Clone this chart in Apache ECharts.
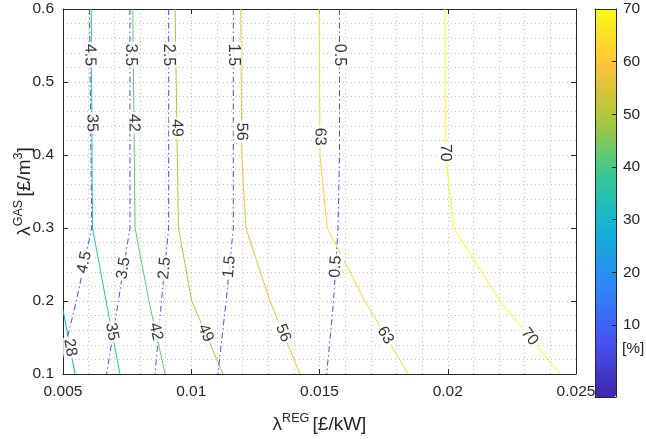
<!DOCTYPE html>
<html>
<head>
<meta charset="utf-8">
<script src="https://cdn.jsdelivr.net/npm/echarts@6/dist/echarts.min.js"></script>
<style>
    html, body { margin: 0; padding: 0; background: #ffffff; }
    #main { width: 646px; height: 439px; }
</style>
</head>
<body>
<div id="main"></div>
<script>
    // axes
    const xRange = [0.005, 0.025];
    const yRange = [0.1, 0.6];
    const cbarRange = [-3.7, 70];
    const cbarTicks = [10, 20, 30, 40, 50, 60, 70];

    // solid contours [%], points [lambdaREG, lambdaGAS] read top -> bottom
    const level28 = [[0.00500, 0.188], [0.00547, 0.1]];
    const level35 = [[0.00610, 0.6], [0.00615, 0.3], [0.00668, 0.2], [0.00722, 0.1]];
    const level42 = [[0.00772, 0.6], [0.00781, 0.3], [0.00835, 0.2], [0.00898, 0.1]];
    const level49 = [[0.00937, 0.6], [0.00950, 0.3], [0.01002, 0.2], [0.01124, 0.1]];
    const level56 = [[0.01193, 0.6], [0.01197, 0.4], [0.01213, 0.3], [0.01307, 0.2], [0.01424, 0.1]];
    const level63 = [[0.01499, 0.6], [0.01502, 0.4], [0.01530, 0.3], [0.01677, 0.2], [0.01846, 0.1]];
    const level70 = [[0.01989, 0.6], [0.01991, 0.4], [0.02024, 0.3], [0.02204, 0.2], [0.02438, 0.1]];

    // dash-dot contours
    const level4_5 = [[0.00603, 0.6], [0.00612, 0.3], [0.00552, 0.2], [0.00500, 0.125]];
    const level3_5 = [[0.00761, 0.6], [0.00761, 0.3], [0.00716, 0.2], [0.00670, 0.1]];
    const level2_5 = [[0.00912, 0.6], [0.00912, 0.3], [0.00884, 0.2], [0.00859, 0.1]];
    const level1_5 = [[0.01164, 0.6], [0.01164, 0.3], [0.01136, 0.2], [0.01104, 0.1]];
    const level0_5 = [[0.01578, 0.6], [0.01578, 0.4], [0.01572, 0.3], [0.01555, 0.2], [0.01528, 0.1]];

    // where the contour labels sit (lambdaGAS value on the line)
    const labelsAt28 = [0.136];
    const labelsAt35 = [0.444, 0.158];
    const labelsAt42 = [0.444, 0.158];
    const labelsAt49 = [0.437, 0.156];
    const labelsAt56 = [0.432, 0.156];
    const labelsAt63 = [0.425, 0.153];
    const labelsAt70 = [0.403, 0.151];
    const labelsAt4_5 = [0.537, 0.253];
    const labelsAt3_5 = [0.537, 0.245];
    const labelsAt2_5 = [0.537, 0.245];
    const labelsAt1_5 = [0.537, 0.247];
    const labelsAt0_5 = [0.537, 0.247];

    const contours = [
        {level: 28, pts: level28, at: labelsAt28, dash: false},
        {level: 35, pts: level35, at: labelsAt35, dash: false},
        {level: 42, pts: level42, at: labelsAt42, dash: false},
        {level: 49, pts: level49, at: labelsAt49, dash: false},
        {level: 56, pts: level56, at: labelsAt56, dash: false},
        {level: 63, pts: level63, at: labelsAt63, dash: false},
        {level: 70, pts: level70, at: labelsAt70, dash: false},
        {level: 4.5, pts: level4_5, at: labelsAt4_5, dash: true},
        {level: 3.5, pts: level3_5, at: labelsAt3_5, dash: true},
        {level: 2.5, pts: level2_5, at: labelsAt2_5, dash: true},
        {level: 1.5, pts: level1_5, at: labelsAt1_5, dash: true},
        {level: 0.5, pts: level0_5, at: labelsAt0_5, dash: true}
    ];

    // parula, 8 samples
    const PARULA = ['#3E26A8', '#4852F4', '#2D87F7', '#12B1D6', '#37C897', '#ABC739', '#FEC338', '#F9FB15'];
    const DASH_COLOR = '#5549DE';

    function hexRgb(h) {
        return [parseInt(h.substr(1, 2), 16), parseInt(h.substr(3, 2), 16), parseInt(h.substr(5, 2), 16)];
    }

    function parula(v) {
        let t = (v - cbarRange[0]) / (cbarRange[1] - cbarRange[0]);
        t = Math.max(0, Math.min(1, t)) * (PARULA.length - 1);
        const i = Math.min(Math.floor(t), PARULA.length - 2);
        const f = t - i;
        const a = hexRgb(PARULA[i]), b = hexRgb(PARULA[i + 1]);
        const c = a.map((x, k) => Math.round(x + (b[k] - x) * f));
        return 'rgb(' + c.join(',') + ')';
    }

    // x on the polyline for a given y, plus the segment it falls in
    function onLine(pts, y) {
        for (let i = 0; i < pts.length - 1; i++) {
            const y0 = pts[i][1], y1 = pts[i + 1][1];
            if (y <= y0 && y >= y1) {
                const f = (y0 - y) / (y0 - y1);
                return {x: pts[i][0] + (pts[i + 1][0] - pts[i][0]) * f, p0: pts[i], p1: pts[i + 1]};
            }
        }
        return {x: pts[0][0], p0: pts[0], p1: pts[1]};
    }

    const FONT = '"Liberation Sans", Arial, Helvetica, sans-serif';
    const INK = '#262626';
    const gridLine = {show: true, lineStyle: {color: '#c4c4c4', type: [1, 3], width: 1}};

    const series = contours.map(c => ({
        type: 'line',
        xAxisIndex: 0,
        yAxisIndex: 0,
        data: c.pts,
        symbol: 'none',
        silent: true,
        z: 3,
        lineStyle: {
            color: c.dash ? DASH_COLOR : parula(c.level),
            width: 1,
            type: c.dash ? [6, 3, 1.5, 3] : 'solid'
        }
    }));

    const labelItems = [];
    contours.forEach(c => {
        c.at.forEach(y => {
            const r = onLine(c.pts, y);
            labelItems.push({value: [r.x, y], name: String(c.level), p0: r.p0, p1: r.p1});
        });
    });

    series.push({
        id: 'labels',
        type: 'scatter',
        xAxisIndex: 0,
        yAxisIndex: 0,
        symbolSize: 0,
        silent: true,
        z: 5,
        data: labelItems.map(it => ({value: it.value, name: it.name})),
        label: {
            show: true,
            position: 'inside',
            formatter: '{b}',
            fontFamily: FONT,
            fontSize: 16,
            color: '#000',
            backgroundColor: '#ffffff',
            padding: [0, 2]
        }
    });

    // empty series the colour bar is bound to
    series.push({type: 'scatter', xAxisIndex: 2, yAxisIndex: 2, data: [], silent: true});

    const titleRich = {
        l: {fontFamily: FONT, fontSize: 19, color: INK, lineHeight: 26},
        s: {fontFamily: FONT, fontSize: 12.5, color: INK, lineHeight: 13, verticalAlign: 'top'}
    };

    const option = {
        animation: false,
        backgroundColor: '#ffffff',
        textStyle: {fontFamily: FONT},
        grid: [
            {left: 63, top: 9, width: 513, height: 365, containLabel: false, outerBoundsMode: 'none'},
            {left: 595, top: 9, width: 21, height: 388, containLabel: false, outerBoundsMode: 'none'}
        ],
        visualMap: {
            type: 'continuous',
            min: cbarRange[0],
            max: cbarRange[1],
            seriesIndex: series.length - 1,
            left: 595,
            top: 9,
            padding: 0,
            itemWidth: 21,
            itemHeight: 388,
            calculable: false,
            hoverLink: false,
            text: null,
            inRange: {color: PARULA}
        },
        xAxis: [
            {
                gridIndex: 0, type: 'value', min: xRange[0], max: xRange[1], interval: 0.005,
                axisLine: {onZero: false, lineStyle: {color: INK, width: 1}},
                axisTick: {inside: true, length: 5, lineStyle: {color: INK}},
                axisLabel: {
                    fontFamily: FONT, fontSize: 15.5, color: INK, margin: 10,
                    hideOverlap: false,
                    formatter: v => String(+v.toFixed(4))
                },
                splitLine: gridLine,
                minorTick: {show: false, splitNumber: 5},
                minorSplitLine: gridLine,
                name: '{l|λ}{s|REG} {l|[£/kW]}',
                nameLocation: 'middle',
                nameGap: 38,
                nameMoveOverlap: false,
                nameTextStyle: {rich: titleRich}
            },
            {
                gridIndex: 0, type: 'value', position: 'top', min: xRange[0], max: xRange[1], interval: 0.005,
                axisLine: {onZero: false, lineStyle: {color: INK, width: 1}},
                axisTick: {inside: true, length: 5, lineStyle: {color: INK}},
                axisLabel: {show: false},
                splitLine: {show: false}
            },
            {
                gridIndex: 1, type: 'value', min: 0, max: 1, z: 10,
                axisLine: {onZero: false, lineStyle: {color: INK, width: 1}},
                axisTick: {show: false}, axisLabel: {show: false}, splitLine: {show: false}
            },
            {
                gridIndex: 1, type: 'value', position: 'top', min: 0, max: 1, z: 10,
                axisLine: {onZero: false, lineStyle: {color: INK, width: 1}},
                axisTick: {show: false}, axisLabel: {show: false}, splitLine: {show: false}
            }
        ],
        yAxis: [
            {
                gridIndex: 0, type: 'value', min: yRange[0], max: yRange[1], interval: 0.1,
                axisLine: {onZero: false, lineStyle: {color: INK, width: 1}},
                axisTick: {inside: true, length: 5, lineStyle: {color: INK}},
                axisLabel: {
                    fontFamily: FONT, fontSize: 15.5, color: INK, margin: 9,
                    formatter: v => String(+v.toFixed(2))
                },
                splitLine: gridLine,
                minorTick: {show: false, splitNumber: 5},
                minorSplitLine: gridLine,
                name: '{l|λ}{s|GAS} {l|[£/m}{s|3}{l|]}',
                nameLocation: 'middle',
                nameRotate: 90,
                nameGap: 25,
                nameMoveOverlap: false,
                nameTextStyle: {rich: titleRich}
            },
            {
                gridIndex: 0, type: 'value', position: 'right', min: yRange[0], max: yRange[1], interval: 0.1,
                axisLine: {onZero: false, lineStyle: {color: INK, width: 1}},
                axisTick: {inside: true, length: 5, lineStyle: {color: INK}},
                axisLabel: {show: false},
                splitLine: {show: false}
            },
            {
                gridIndex: 1, type: 'value', position: 'right', min: cbarRange[0], max: cbarRange[1], z: 10,
                axisLine: {onZero: false, lineStyle: {color: INK, width: 1}},
                axisTick: {inside: true, length: 4, lineStyle: {color: INK}, customValues: cbarTicks},
                axisLabel: {fontFamily: FONT, fontSize: 15.5, color: INK, margin: 7, customValues: cbarTicks},
                splitLine: {show: false}
            },
            {
                gridIndex: 1, type: 'value', position: 'left', min: cbarRange[0], max: cbarRange[1], z: 10,
                axisLine: {onZero: false, lineStyle: {color: INK, width: 1}},
                axisTick: {show: false}, axisLabel: {show: false}, splitLine: {show: false}
            }
        ],
        graphic: [{
            type: 'text',
            left: 622,
            top: 341,
            style: {text: '[%]', fontFamily: FONT, fontSize: 15.5, fill: INK}
        }],
        series: series
    };

    const chart = echarts.init(document.getElementById('main'));
    chart.setOption(option);

    // turn every label along its contour segment
    const rotated = labelItems.map(it => {
        const a = chart.convertToPixel({xAxisIndex: 0, yAxisIndex: 0}, it.p0);
        const b = chart.convertToPixel({xAxisIndex: 0, yAxisIndex: 0}, it.p1);
        let ang = Math.atan2(a[1] - b[1], b[0] - a[0]) * 180 / Math.PI;
        if (ang < -90) ang += 180;
        if (ang > 90) ang -= 180;
        return {value: it.value, name: it.name, label: {rotate: ang}};
    });
    chart.setOption({series: [{id: 'labels', data: rotated}]});
</script>
</body>
</html>
